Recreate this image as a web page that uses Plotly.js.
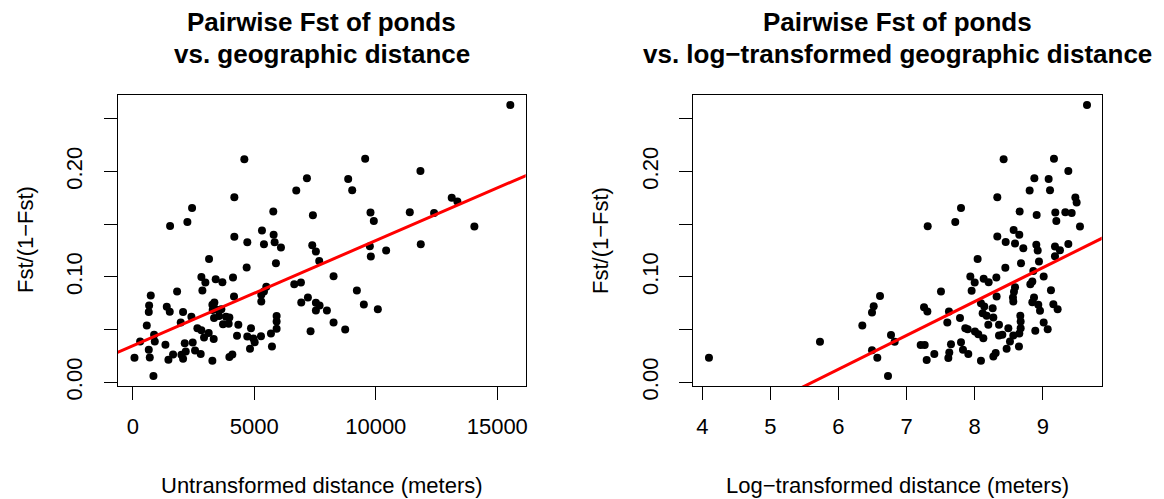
<!DOCTYPE html>
<html>
<head>
<meta charset="utf-8">
<script src="https://cdn.plot.ly/plotly-3.0.1.min.js"></script>
<style>html,body{margin:0;padding:0;background:#fff;}#chart{width:1164px;height:499px;}</style>
</head>
<body>
<div id="chart"></div>
<script>
// Left panel: untransformed distance (m) vs Fst/(1-Fst)
const distanceMeters = [
  4591,7167,6728,4180,2440,2248,1536,7413,5783,5317,5797,5399,5838,6098,4180,4714,7386,7536,7673,
  3139,5892,4687,2824,2988,3413,3688,4125,2865,1824,741,673,659,577,1399,1522,2070,2413,1974,2659,
  2824,3125,2933,3331,3358,3276,3289,3413,3645,3345,3550,3838,3975,3714,3947,4166,4344,4290,4865,
  4714,4961,5016,5276,4824,4098,3975,3276,5687,5920,5920,5920,5728,5289,5289,5399,5495,6646,6920,
  7207,6934,7536,7687,7536,7317,1344,1659,1467,2002,2070,2139,2180,2467,2563,2796,906,878,303,659,
  700,70,851,
  15537,9564,11838,8865,9030,13126,13359,11400,12400,9783,9920,14058,9756,9797,10427,11852,8263,
  9222,9509,10085,7989,8263,8742
];
const fstLeft = [
  0.2116,0.1936,0.182,0.1756,0.1655,0.152,0.1484,0.1585,0.162,0.144,0.140,0.131,0.133,0.128,0.138,0.133,0.130,0.124,0.115,
  0.117,0.113,0.109,0.100,0.0947,0.0979,0.0950,0.0994,0.0871,0.0862,0.0824,0.0729,0.0666,0.0539,0.0716,0.0669,0.0666,0.0621,0.0568,0.0514,
  0.0495,0.0467,0.0426,0.0410,0.0757,0.0735,0.0685,0.0694,0.0694,0.0609,0.0628,0.0621,0.0615,0.0552,0.0555,0.0814,0.0546,0.0441,0.0514,
  0.0435,0.0416,0.0381,0.0438,0.0318,0.0264,0.0239,0.0204,0.0463,0.0508,0.0577,0.0628,0.0340,0.0767,0.0830,0.0862,0.0906,0.0931,0.0947,
  0.0805,0.0757,0.0754,0.0729,0.0682,0.0485,0.0356,0.0264,0.0213,0.0261,0.0223,0.0371,0.0293,0.0378,0.0302,0.0268,0.0387,0.0451,0.0387,0.0309,
  0.0236,0.0233,0.0059,
  0.2631,0.2122,0.2006,0.1930,0.1822,0.1750,0.1715,0.1614,0.1607,0.1611,0.1531,0.1478,0.1291,0.1193,0.1250,0.1310,0.1007,
  0.0871,0.0738,0.0694,0.0681,0.0568,0.0501
];
// Right panel: log-transformed distance vs Fst/(1-Fst)
const logDistance = [
  4.098,5.728,6.610,6.517,6.492,6.350,6.771,6.825,6.492,6.570,6.727,7.310,7.256,7.305,7.207,7.266,7.295,
  9.649,8.425,9.164,9.375,8.876,9.086,8.807,9.106,8.332,9.478,9.497,7.799,7.715,
  8.660,8.910,9.184,9.199,9.331,9.424,9.546,8.332,8.455,8.572,8.655,8.592,8.714,8.905,8.925,9.179,9.252,9.375,
  9.179,8.944,8.680,8.043,8.450,8.861,9.013,7.936,8.000,8.132,8.205,8.318,7.955,7.505,8.592,8.577,8.322,8.562,
  8.567,8.817,8.846,9.120,8.092,8.141,8.264,8.117,8.176,8.274,8.200,8.357,8.871,8.846,8.934,8.959,9.155,9.218,
  8.670,8.675,8.675,8.655,9.013,9.072,8.890,8.494,8.567,8.518,8.469,8.650,8.406,8.357,8.127,8.053,8.004,7.897,
  7.862,7.784,7.622,7.598,
  7.652,7.799,7.828,7.906,7.613,7.627,7.407,8.092,8.274,8.308
];
const fstRight = [
  0.0233,0.0384,0.0820,0.0722,0.0662,0.0539,0.0448,0.0384,0.0305,0.0233,0.0059,0.1481,0.0713,0.0672,0.0353,0.0353,0.0211,
  0.2631,0.2116,0.2122,0.2006,0.1936,0.1930,0.1819,0.1822,0.1756,0.1753,0.1705,0.1655,0.1522,
  0.1620,0.1588,0.1611,0.1531,0.1614,0.1607,0.1478,0.1383,0.1332,0.1446,0.1399,0.1317,0.1272,0.1304,0.1250,0.1288,0.1253,0.1313,
  0.1196,0.1146,0.1130,0.1171,0.1086,0.1057,0.1004,0.1004,0.0947,0.0982,0.0950,0.0994,0.0868,0.0862,0.0903,0.0859,0.0814,0.0805,
  0.0767,0.0931,0.0956,0.0874,0.0751,0.0719,0.0703,0.0656,0.0631,0.0615,0.0546,0.0546,0.0805,0.0760,0.0735,0.0678,0.0741,0.0694,
  0.0631,0.0577,0.0514,0.0463,0.0568,0.0504,0.0489,0.0514,0.0444,0.0387,0.0318,0.0340,0.0451,0.0444,0.0419,0.0457,0.0482,0.0504,
  0.0514,0.0609,0.0672,0.0568,
  0.0362,0.0381,0.0309,0.0268,0.0230,0.0283,0.0268,0.0204,0.0245,0.0277
];
// Fitted regression lines (intercept, slope)
const fitLeftIntercept = 0.0347, fitLeftSlope = 9.98e-6;
const fitRightIntercept = -0.1804, fitRightSlope = 0.03213;

const yTickVals = [0, 0.05, 0.10, 0.15, 0.20, 0.25];
const yTickText = ['0.00', '', '0.10', '', '0.20', ''];
const xTickValsLeft = [0, 5000, 10000, 15000];
const xTickValsRight = [4, 5, 6, 7, 8, 9];

const W = 1164, H = 499;
const xRangeLeft = [-620, 16170];
const xRangeRight = [3.868, 9.865];
const yRange = [-0.0035, 0.2726];

const FONT = 'Liberation Sans, Arial, Helvetica, sans-serif';
const BLACK = '#000000';

function fitLine(range, a, b) {
  const xs = [range[0] - (range[1] - range[0]), range[1] + (range[1] - range[0])];
  return { x: xs, y: xs.map(v => a + b * v) };
}
const lineL = fitLine(xRangeLeft, fitLeftIntercept, fitLeftSlope);
const lineR = fitLine(xRangeRight, fitRightIntercept, fitRightSlope);

const traces = [
  { type: 'scatter', mode: 'markers', x: distanceMeters, y: fstLeft, xaxis: 'x', yaxis: 'y',
    marker: { color: BLACK, size: 8 }, hoverinfo: 'x+y' },
  { type: 'scatter', mode: 'lines', x: lineL.x, y: lineL.y, xaxis: 'x', yaxis: 'y',
    line: { color: '#ff0000', width: 3 }, hoverinfo: 'skip' },
  { type: 'scatter', mode: 'markers', x: logDistance, y: fstRight, xaxis: 'x2', yaxis: 'y2',
    marker: { color: BLACK, size: 8 }, hoverinfo: 'x+y' },
  { type: 'scatter', mode: 'lines', x: lineR.x, y: lineR.y, xaxis: 'x2', yaxis: 'y2',
    line: { color: '#ff0000', width: 3 }, hoverinfo: 'skip' }
];

const axisCommon = {
  showgrid: false, zeroline: false, showline: true, mirror: true,
  linecolor: BLACK, linewidth: 1, ticks: 'outside', ticklen: 13, tickwidth: 1, tickcolor: BLACK,
  tickfont: { family: FONT, size: 22, color: BLACK }, fixedrange: true
};
const yDomain = [1 - 386 / H, 1 - 95 / H];

const layout = {
  width: W, height: H,
  margin: { l: 0, r: 0, t: 0, b: 0, pad: 0 },
  paper_bgcolor: '#ffffff', plot_bgcolor: '#ffffff',
  showlegend: false,
  font: { family: FONT, size: 22, color: BLACK },
  xaxis: Object.assign({}, axisCommon, { domain: [117.7 / W, 525.7 / W], range: xRangeLeft,
    tickmode: 'array', tickvals: xTickValsLeft, ticktext: xTickValsLeft.map(String), anchor: 'y', ticklabelstandoff: 8 }),
  yaxis: Object.assign({}, axisCommon, { domain: yDomain, range: yRange, anchor: 'x',
    tickmode: 'array', tickvals: yTickVals, ticktext: yTickText, tickangle: -90, ticklabelstandoff: 13 }),
  xaxis2: Object.assign({}, axisCommon, { domain: [693.3 / W, 1101.7 / W], range: xRangeRight,
    tickmode: 'array', tickvals: xTickValsRight, ticktext: xTickValsRight.map(String), anchor: 'y2', ticklabelstandoff: 8 }),
  yaxis2: Object.assign({}, axisCommon, { domain: yDomain, range: yRange, anchor: 'x2',
    tickmode: 'array', tickvals: yTickVals, ticktext: yTickText, tickangle: -90, ticklabelstandoff: 13 }),
  annotations: [
    { text: '<b>Pairwise Fst of ponds</b>', x: 321.5 / W, y: 1 - 22 / H },
    { text: '<b>vs. geographic distance</b>', x: 321.5 / W, y: 1 - 54 / H },
    { text: '<b>Pairwise Fst of ponds</b>', x: 897.5 / W, y: 1 - 22 / H },
    { text: '<b>vs. log\u2212transformed geographic distance</b>', x: 897.5 / W, y: 1 - 54 / H },
    { text: 'Untransformed distance (meters)', x: 321.5 / W, y: 1 - 485 / H, size: 22 },
    { text: 'Log\u2212transformed distance (meters)', x: 897.5 / W, y: 1 - 485 / H, size: 22 },
    { text: 'Fst/(1\u2212Fst)', x: 25 / W, y: 1 - 240 / H, size: 22, angle: -90 },
    { text: 'Fst/(1\u2212Fst)', x: 600 / W, y: 1 - 240 / H, size: 22, angle: -90 }
  ].map(a => ({
    text: a.text, x: a.x, y: a.y, xref: 'paper', yref: 'paper', showarrow: false,
    xanchor: 'center', yanchor: 'middle', textangle: a.angle || 0,
    font: { family: FONT, size: a.size || 26, color: BLACK }
  }))
};

Plotly.newPlot('chart', traces, layout, { staticPlot: true, displayModeBar: false });
</script>
</body>
</html>
